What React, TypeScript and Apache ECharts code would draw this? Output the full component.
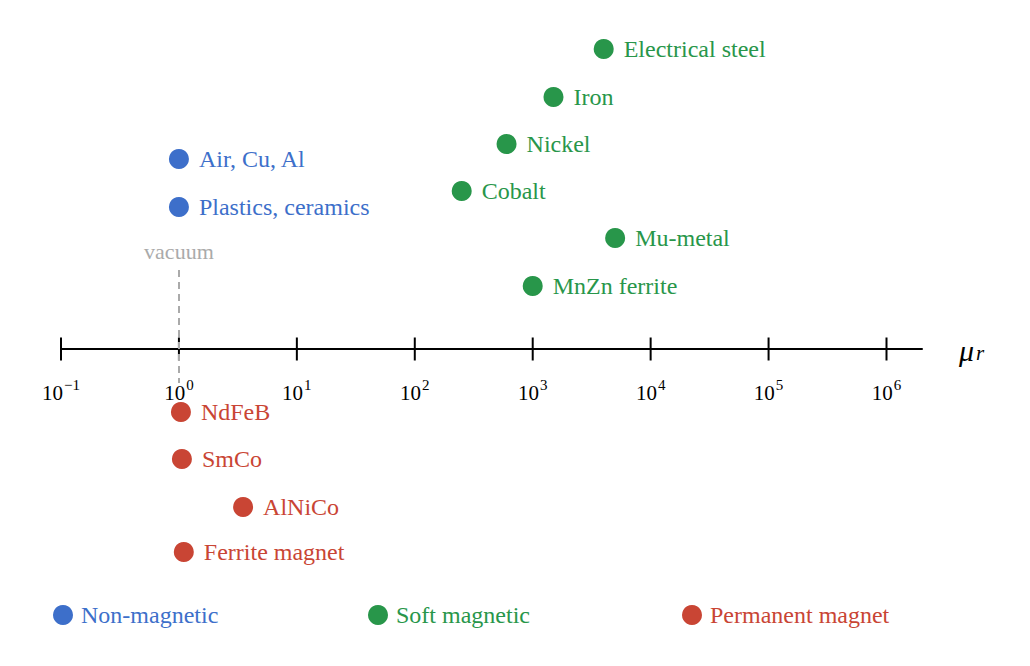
import React, { useEffect, useRef } from "react";
import * as echarts from "echarts";

const FONT = "'Liberation Serif', 'DejaVu Serif', serif";
const BLUE = "#3d6fca";
const GREEN = "#28964a";
const RED = "#c94534";

const nonMagNames = ["Air, Cu, Al", "Plastics, ceramics"];
const nonMagMu = [1, 1];
const nonMagLevel = [190, 142];

const softNames = ["Electrical steel", "Iron", "Nickel", "Cobalt", "Mu-metal", "MnZn ferrite"];
const softMu = [4000, 1500, 600, 250, 5000, 1000];
const softLevel = [300, 252, 205, 158, 111, 63];

const permNames = ["NdFeB", "SmCo", "AlNiCo", "Ferrite magnet"];
const permMu = [1.04, 1.06, 3.5, 1.1];
const permLevel = [-63, -110, -158, -203];

const tickValues = [0.1, 1, 10, 100, 1000, 10000, 100000, 1000000];
const tickExponents = ["−1", "0", "1", "2", "3", "4", "5", "6"];

const groupNames = ["Non-magnetic", "Soft magnetic", "Permanent magnet"];

function pts(mu: number[], lvl: number[], names: string[]) {
  return mu.map((m, i) => ({ value: [m, lvl[i]], name: names[i] }));
}

export default function App() {
  const ref = useRef<HTMLDivElement>(null);
  useEffect(() => {
    const chart = echarts.init(ref.current!, null, { renderer: "svg" });
    const labelStyle = (color: string) => ({
      show: true,
      position: "right" as const,
      distance: 10,
      formatter: (p: any) => p.name,
      color,
      opacity: 1,
      fontSize: 24,
      fontFamily: FONT,
    });
    const colors = [BLUE, GREEN, RED];
    const legendLefts = [48, 363, 677];
    chart.setOption({
      animation: false,
      textStyle: { fontFamily: FONT },
      grid: { left: 61, right: 108, top: 9, bottom: 67, containLabel: false },
      xAxis: {
        type: "log",
        logBase: 10,
        min: 0.1,
        max: 2e6,
        interval: 1,
        position: "bottom",
        offset: -250,
        axisLine: { show: true, onZero: false, lineStyle: { color: "#000", width: 2 } },
        axisTick: { show: false },
        splitLine: { show: false },
        axisLabel: {
          margin: 28,
          showMaxLabel: false,
          formatter: (v: number) => {
            const idx = tickValues.findIndex((t) => Math.abs(Math.log10(t) - Math.log10(v)) < 1e-6);
            if (idx < 0) return "";
            return "{b|10}{s|" + tickExponents[idx] + "}";
          },
          rich: {
            b: { fontSize: 21, lineHeight: 26, verticalAlign: "bottom", color: "#000", fontFamily: FONT },
            s: { fontSize: 15, lineHeight: 18, verticalAlign: "top", color: "#000", fontFamily: FONT, padding: [0, 0, 0, 1] },
          },
        },
        name: "{m|μ}{r|r}",
        nameLocation: "end",
        nameGap: 37,
        nameTextStyle: {
          fontSize: 30,
          rich: {
            m: { fontSize: 30, fontStyle: "italic", lineHeight: 28, verticalAlign: "top", color: "#000", fontFamily: FONT },
            r: { fontSize: 21, fontStyle: "italic", lineHeight: 18, verticalAlign: "bottom", color: "#000", fontFamily: FONT, padding: [0, 0, 0, 2] },
          },
        },
      },
      yAxis: { type: "value", min: -250, max: 340, show: false },
      legend: groupNames.map((n, i) => ({
        data: [n],
        left: legendLefts[i],
        top: 598,
        icon: "circle",
        itemWidth: 26,
        itemHeight: 20,
        itemGap: 0,
        itemStyle: { opacity: 1 },
        textStyle: { color: colors[i], fontSize: 24, fontFamily: FONT },
      })),
      series: [
        {
          name: "ticks",
          type: "scatter",
          silent: true,
          symbol: "rect",
          symbolSize: [2, 23],
          itemStyle: { color: "#000", opacity: 1 },
          data: tickValues.map((t) => [t, 0]),
          z: 3,
        },
        {
          name: groupNames[0],
          type: "scatter",
          symbolSize: 20,
          itemStyle: { color: BLUE, opacity: 1 },
          label: labelStyle(BLUE),
          data: pts(nonMagMu, nonMagLevel, nonMagNames),
          markLine: {
            silent: true,
            symbol: "none",
            lineStyle: { color: "#aaa", width: 2, type: [7, 5], opacity: 1 },
            label: {
              show: true,
              position: "start",
              distance: 8,
              formatter: "vacuum",
              color: "#aaa",
              fontSize: 22,
              fontFamily: FONT,
            },
            data: [[{ coord: [1, 79] }, { coord: [1, -34] }]],
            z: 5,
          },
          z: 4,
        },
        {
          name: groupNames[1],
          type: "scatter",
          symbolSize: 20,
          itemStyle: { color: GREEN, opacity: 1 },
          label: labelStyle(GREEN),
          data: pts(softMu, softLevel, softNames),
          z: 4,
        },
        {
          name: groupNames[2],
          type: "scatter",
          symbolSize: 20,
          itemStyle: { color: RED, opacity: 1 },
          label: labelStyle(RED),
          data: pts(permMu, permLevel, permNames),
          z: 4,
        },
      ],
    });
    return () => chart.dispose();
  }, []);
  return (
    <div
      ref={ref}
      style={{ position: "fixed", left: 0, top: 0, width: 1030, height: 666, background: "#fff" }}
    />
  );
}
